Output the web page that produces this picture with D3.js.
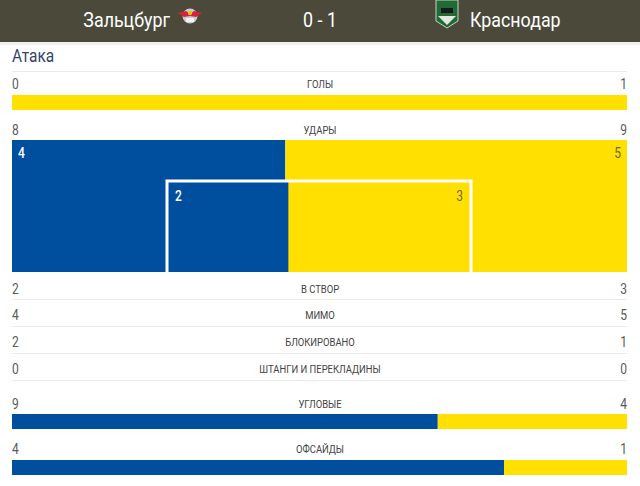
<!DOCTYPE html>
<html><head><meta charset="utf-8">
<script src="https://cdn.jsdelivr.net/npm/d3@7"></script>
<style>
html,body{margin:0;padding:0;background:#fff;overflow:hidden}
svg{display:block;font-family:Roboto,"Noto Sans",sans-serif}
</style></head>
<body><svg id="c" width="640" height="486"></svg>
<script>
const homeTeam = "Зальцбург";
const awayTeam = "Краснодар";
const score = "0 - 1";
const section = "Атака";
const categories = ["Голы","Удары","В створ","Мимо","Блокировано","Штанги и перекладины","Угловые","Офсайды"];
const homeValues = [0,8,2,4,2,0,9,4];
const awayValues = [1,9,3,5,1,0,4,1];
const barRows = ["Голы","Угловые","Офсайды"];

(function(){
const BLUE = "#004f9f", YELLOW = "#ffe000";
const svg = d3.select("#c");
const L = 12, R = 627;

// condensed text helper
function ctext(x, y, str, opts){
  const g = svg.append("g").attr("transform",`translate(${x},${y}) scale(${opts.sx||0.86},1)`);
  return g.append("text").attr("x",0).attr("y",0).attr("dominant-baseline","central")
    .attr("text-anchor",opts.anchor||"start").attr("font-size",opts.size||13)
    .attr("font-weight",opts.weight||400).attr("fill",opts.fill||"#555").text(str);
}

// header
svg.append("rect").attr("x",0).attr("y",0).attr("width",640).attr("height",42).attr("fill","#4b4a3a");
svg.append("rect").attr("x",0).attr("y",42).attr("width",640).attr("height",3).attr("fill","#efefec");
ctext(170,20,homeTeam,{anchor:"end",size:21,fill:"#fff",sx:0.85});
ctext(320,20,score,{anchor:"middle",size:21,fill:"#fff",sx:0.85});
ctext(470,20,awayTeam,{anchor:"start",size:21,fill:"#fff",sx:0.85});
// salzburg logo
const lg = svg.append("g").attr("transform","translate(190,16)");
lg.append("circle").attr("r",7.5).attr("fill","#c9ccd4");
lg.append("path").attr("d","M-12,-3 L-4,-5 L0,-2 L4,-5 L12,-3 L6,1 L0,0 L-6,1 Z").attr("fill","#d9213a");
lg.append("circle").attr("r",2.2).attr("cy",-3).attr("fill","#f1c40f");
lg.append("rect").attr("x",-4).attr("y",2).attr("width",8).attr("height",4).attr("fill","#f2f2f2");
// krasnodar logo
const kg = svg.append("g").attr("transform","translate(447,13)");
kg.append("path").attr("d","M-11,-13 L11,-13 L11,8 L0,15 L-11,8 Z").attr("fill","#1f6a36").attr("stroke","#c8d0c0").attr("stroke-width",1);
kg.append("rect").attr("x",-6).attr("y",-5).attr("width",12).attr("height",5).attr("fill","#1a1a1a");
kg.append("path").attr("d","M-9,3 L9,3 L0,12 Z").attr("fill","#e2e8dc");

// section title
ctext(L,56,section,{size:18,fill:"#35436a",sx:0.86});

const x = d3.scaleLinear().range([L,R]);
const idx = c => categories.indexOf(c);

// separator lines
const sepY = [71,299,326,353,380];
svg.selectAll("line.sep").data(sepY).join("line").attr("class","sep")
  .attr("x1",L).attr("x2",R).attr("y1",d=>d+0.5).attr("y2",d=>d+0.5).attr("stroke","#ebebeb");

// label rows
const labelY = {"Голы":84,"Удары":130,"В створ":289,"Мимо":315,"Блокировано":342,"Штанги и перекладины":369,"Угловые":404,"Офсайды":449};
categories.forEach((c,i)=>{
  const y = labelY[c];
  ctext(L,y,homeValues[i],{size:14,fill:"#5a5a5a"});
  ctext(R,y,awayValues[i],{size:14,fill:"#5a5a5a",anchor:"end"});
  ctext(320,y,c.toUpperCase(),{size:10.5,fill:"#444",anchor:"middle",sx:0.9});
});

// bars
const barY = {"Голы":95,"Угловые":414,"Офсайды":460};
barRows.forEach(c=>{
  const i = idx(c);
  const h = homeValues[i], a = awayValues[i];
  x.domain([0,h+a]);
  svg.append("rect").attr("x",x(0)).attr("y",barY[c]).attr("width",x(h)-x(0)).attr("height",15).attr("fill",BLUE);
  svg.append("rect").attr("x",x(h)).attr("y",barY[c]).attr("width",x(h+a)-x(h)).attr("height",15).attr("fill",YELLOW);
});

// shot map
const iOff = idx("Мимо"), iOn = idx("В створ");
const sTop = 140, sBottom = 272;
x.domain([0, homeValues[iOff]+awayValues[iOff]]);
svg.append("rect").attr("x",x(0)).attr("y",sTop).attr("width",x(homeValues[iOff])-x(0)).attr("height",sBottom-sTop).attr("fill",BLUE);
svg.append("rect").attr("x",x(homeValues[iOff])).attr("y",sTop).attr("width",x(homeValues[iOff]+awayValues[iOff])-x(homeValues[iOff])).attr("height",sBottom-sTop).attr("fill",YELLOW);
ctext(x(0)+6,sTop+13,homeValues[iOff],{size:14,weight:500,fill:"#fff"});
ctext(R-6,sTop+13,awayValues[iOff],{size:14,fill:"#6d6838",anchor:"end"});

const inner = d3.scaleLinear().domain([0, homeValues[iOn]+awayValues[iOn]]).range([167,471]);
const iTop = 181;
svg.append("rect").attr("x",inner(0)).attr("y",iTop).attr("width",inner(homeValues[iOn])-inner(0)).attr("height",sBottom-iTop).attr("fill",BLUE);
svg.append("rect").attr("x",inner(homeValues[iOn])).attr("y",iTop).attr("width",inner(homeValues[iOn]+awayValues[iOn])-inner(homeValues[iOn])).attr("height",sBottom-iTop).attr("fill",YELLOW);
svg.append("path").attr("d",`M${inner(0)},${sBottom} L${inner(0)},${iTop} L${inner(homeValues[iOn]+awayValues[iOn])},${iTop} L${inner(homeValues[iOn]+awayValues[iOn])},${sBottom}`)
  .attr("fill","none").attr("stroke","#fff").attr("stroke-width",3);
ctext(inner(0)+8,iTop+15,homeValues[iOn],{size:14,weight:500,fill:"#fff"});
ctext(inner(homeValues[iOn]+awayValues[iOn])-8,iTop+15,awayValues[iOn],{size:14,fill:"#6d6838",anchor:"end"});
})();
</script></body></html>
